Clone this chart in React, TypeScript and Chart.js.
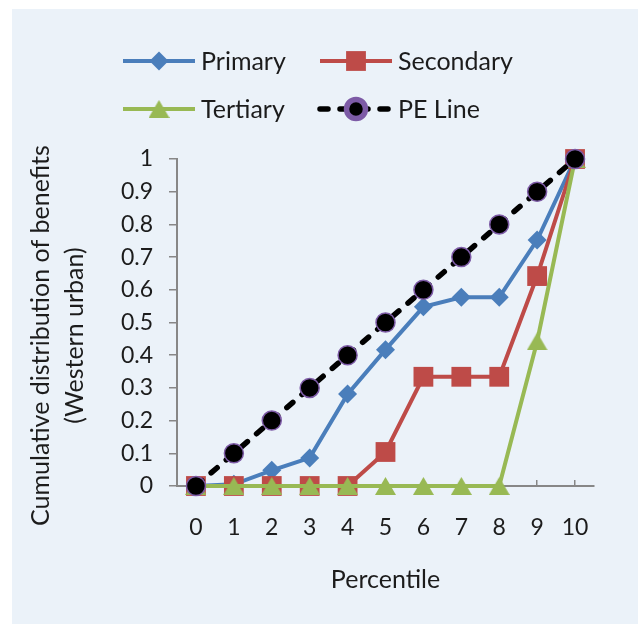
import React, { useEffect, useRef } from 'react';
import { Chart, registerables } from 'chart.js';
import { drawPoint } from 'chart.js/helpers';

Chart.register(...registerables);

// Percentile groups on the category axis
const percentiles = ['0', '1', '2', '3', '4', '5', '6', '7', '8', '9', '10'];

// Cumulative share of benefits by education level
const primary = [0, 0.005, 0.048, 0.086, 0.281, 0.417, 0.548, 0.577, 0.577, 0.752, 1];
const secondary = [0, 0, 0, 0, 0, 0.104, 0.334, 0.334, 0.334, 0.642, 1];
const tertiary = [0, 0, 0, 0, 0, 0, 0, 0, 0, 0.442, 1];
const peLine = [0, 0.1, 0.2, 0.3, 0.4, 0.5, 0.6, 0.7, 0.8, 0.9, 1];

const seriesNames = ['Primary', 'Secondary', 'Tertiary', 'PE Line'];
const yTickLabels = ['0', '0.1', '0.2', '0.3', '0.4', '0.5', '0.6', '0.7', '0.8', '0.9', '1'];
const yTitle = ['Cumulative distribution of benefits', '(Western urban)'];
const xTitle = 'Percentile';

const FONT = 'Lato, "Open Sans", sans-serif';
const TEXT = '#1c1c1c';
const AXIS = '#878787';
const BLUE = '#4A7EBB';
const RED = '#BE4B48';
const GREEN = '#98B954';

// Triangle marker centred on its bounding box (the built-in one sits on its circumcentre)
function makeTriangle(color: string, w: number, h: number) {
  const c = document.createElement('canvas');
  c.width = w;
  c.height = h;
  const g = c.getContext('2d')!;
  g.fillStyle = color;
  g.beginPath();
  g.moveTo(w / 2, 0);
  g.lineTo(w, h);
  g.lineTo(0, h);
  g.closePath();
  g.fill();
  return c;
}

// Legend: line sample with the series marker, laid out in two rows of two
const legendPlugin = {
  id: 'lineMarkerLegend',
  afterDraw(chart: any) {
    const ctx = chart.ctx;
    const slots = [
      { x: 111, y: 52 },
      { x: 308, y: 52 },
      { x: 111, y: 100 },
      { x: 308, y: 100 },
    ];
    [0, 1, 2, 3].forEach((di, k) => {
      const ds = chart.data.datasets[di];
      const s = slots[k];
      const lineLen = 72;
      ctx.save();
      ctx.strokeStyle = ds.borderColor;
      ctx.lineWidth = ds.borderWidth;
      ctx.lineCap = ds.borderCapStyle || 'butt';
      ctx.setLineDash(ds.borderDash || []);
      ctx.beginPath();
      ctx.moveTo(s.x, s.y);
      ctx.lineTo(s.x + lineLen, s.y);
      ctx.stroke();
      ctx.setLineDash([]);
      ctx.fillStyle = ds.pointBackgroundColor;
      ctx.strokeStyle = ds.pointBorderColor;
      drawPoint(
        ctx,
        {
          pointStyle: ds.pointStyle,
          rotation: 0,
          radius: ds.pointRadius,
          borderWidth: ds.pointBorderWidth,
        } as any,
        s.x + lineLen / 2,
        s.y
      );
      ctx.fillStyle = TEXT;
      ctx.font = `25px ${FONT}`;
      ctx.textAlign = 'left';
      ctx.textBaseline = 'middle';
      ctx.fillText(seriesNames[di], s.x + lineLen + 6, s.y + 1);
      ctx.restore();
    });
  },
};

// Two-line vertical title for the value axis
const yTitlePlugin = {
  id: 'valueAxisTitle',
  afterDraw(chart: any) {
    const ctx = chart.ctx;
    const area = chart.chartArea;
    const cy = (area.top + area.bottom) / 2 + 13;
    ctx.save();
    ctx.translate(0, cy);
    ctx.rotate(-Math.PI / 2);
    ctx.fillStyle = TEXT;
    ctx.font = `25px ${FONT}`;
    ctx.textAlign = 'center';
    ctx.textBaseline = 'alphabetic';
    ctx.fillText(yTitle[0], 0, 37);
    ctx.fillText(yTitle[1], 0, 71);
    ctx.restore();
  },
};

export default function App() {
  const canvasRef = useRef<HTMLCanvasElement | null>(null);

  useEffect(() => {
    if (!canvasRef.current) return;
    const triangle = makeTriangle(GREEN, 21, 18);
    const chart = new Chart(canvasRef.current, {
      type: 'line',
      data: {
        labels: percentiles,
        datasets: [
          {
            label: seriesNames[0],
            data: primary,
            borderColor: BLUE,
            backgroundColor: BLUE,
            borderWidth: 4,
            pointStyle: 'rectRot',
            pointRadius: 9.5,
            pointBackgroundColor: BLUE,
            pointBorderColor: BLUE,
            pointBorderWidth: 0,
            tension: 0,
            clip: false,
            order: 4,
          },
          {
            label: seriesNames[1],
            data: secondary,
            borderColor: RED,
            backgroundColor: RED,
            borderWidth: 4,
            pointStyle: 'rect',
            pointRadius: 14,
            pointBackgroundColor: RED,
            pointBorderColor: RED,
            pointBorderWidth: 0,
            tension: 0,
            clip: false,
            order: 3,
          },
          {
            label: seriesNames[2],
            data: tertiary,
            borderColor: GREEN,
            backgroundColor: GREEN,
            borderWidth: 4,
            pointStyle: triangle,
            pointRadius: 11,
            pointBackgroundColor: GREEN,
            pointBorderColor: GREEN,
            pointBorderWidth: 0,
            tension: 0,
            clip: false,
            order: 2,
          },
          {
            label: seriesNames[3],
            data: peLine,
            borderColor: '#000000',
            backgroundColor: '#000000',
            borderWidth: 5.5,
            borderDash: [8, 12],
            borderCapStyle: 'round',
            pointStyle: 'circle',
            pointRadius: 9.5,
            pointBackgroundColor: '#000000',
            pointBorderColor: '#7D5BA6',
            pointBorderWidth: 1.5,
            tension: 0,
            clip: false,
            order: 1,
          },
        ] as any,
      },
      options: {
        animation: false,
        responsive: true,
        maintainAspectRatio: false,
        layout: { padding: { top: 150, right: 44, bottom: 0, left: 0 } },
        plugins: {
          legend: { display: false },
          tooltip: { enabled: false },
        },
        scales: {
          x: {
            type: 'category',
            offset: true,
            afterFit: (scale: any) => {
              scale.height = 138;
            },
            grid: {
              display: true,
              drawOnChartArea: false,
              drawTicks: true,
              tickLength: -6,
              offset: false,
              color: AXIS,
              lineWidth: 1.5,
            },
            border: { display: true, color: AXIS, width: 2 },
            ticks: {
              color: TEXT,
              font: { family: FONT, size: 23 },
              padding: 34,
              maxRotation: 0,
              autoSkip: false,
            },
            title: {
              display: true,
              text: xTitle,
              color: TEXT,
              font: { family: FONT, size: 25 },
              padding: { top: 0, bottom: 29 },
            },
          },
          y: {
            min: 0,
            max: 1,
            afterFit: (scale: any) => {
              scale.width = 165;
            },
            grid: {
              display: true,
              drawOnChartArea: false,
              drawTicks: true,
              tickLength: 8,
              color: AXIS,
              lineWidth: 1.5,
            },
            border: { display: true, color: AXIS, width: 2 },
            ticks: {
              stepSize: 0.1,
              color: TEXT,
              font: { family: FONT, size: 23 },
              padding: 16,
              callback: (_v: any, i: number) => yTickLabels[i],
            },
          },
        },
      },
      plugins: [legendPlugin, yTitlePlugin],
    });
    return () => chart.destroy();
  }, []);

  return (
    <div
      style={{
        position: 'absolute',
        left: 12,
        top: 9,
        width: 626,
        height: 615,
        background: '#EBF2F9',
      }}
    >
      <canvas ref={canvasRef} />
    </div>
  );
}
